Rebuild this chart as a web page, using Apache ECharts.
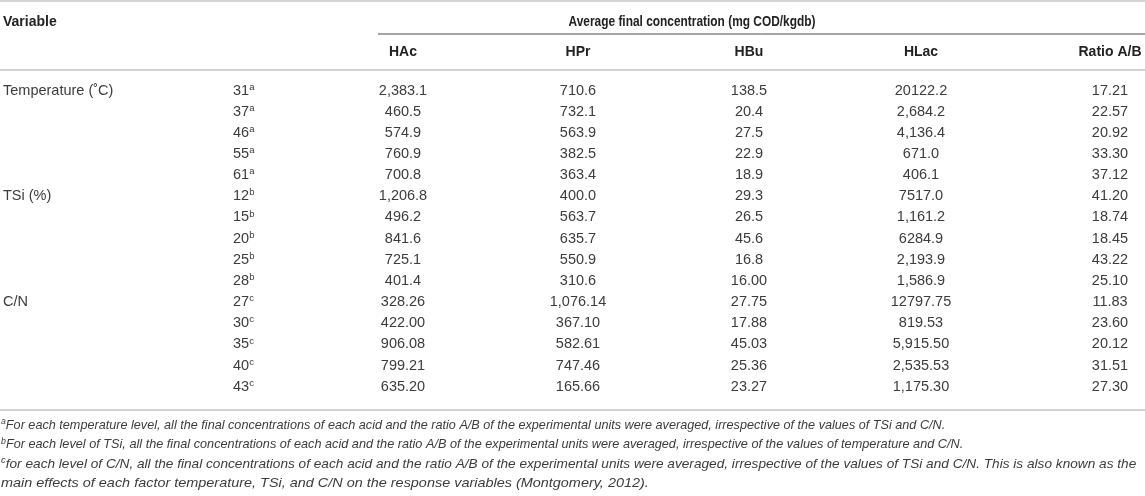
<!DOCTYPE html>
<html>
<head>
<meta charset="utf-8">
<script src="https://cdn.jsdelivr.net/npm/echarts@6/dist/echarts.min.js"></script>
<style>
html, body { margin: 0; padding: 0; background: #fff; }
#chart { width: 1145px; height: 496px; }
</style>
</head>
<body>
<div id="chart"></div>
<script>
// table data
const variables = ['Temperature (˚C)', '', '', '', '', 'TSi (%)', '', '', '', '', 'C/N', '', '', '', ''];
const levels = ['31', '37', '46', '55', '61', '12', '15', '20', '25', '28', '27', '30', '35', '40', '43'];
const marks = ['a', 'a', 'a', 'a', 'a', 'b', 'b', 'b', 'b', 'b', 'c', 'c', 'c', 'c', 'c'];
const columns = ['HAc', 'HPr', 'HBu', 'HLac', 'Ratio A/B'];
const hac = ['2,383.1', '460.5', '574.9', '760.9', '700.8', '1,206.8', '496.2', '841.6', '725.1', '401.4', '328.26', '422.00', '906.08', '799.21', '635.20'];
const hpr = ['710.6', '732.1', '563.9', '382.5', '363.4', '400.0', '563.7', '635.7', '550.9', '310.6', '1,076.14', '367.10', '582.61', '747.46', '165.66'];
const hbu = ['138.5', '20.4', '27.5', '22.9', '18.9', '29.3', '26.5', '45.6', '16.8', '16.00', '27.75', '17.88', '45.03', '25.36', '23.27'];
const hlac = ['20122.2', '2,684.2', '4,136.4', '671.0', '406.1', '7517.0', '1,161.2', '6284.9', '2,193.9', '1,586.9', '12797.75', '819.53', '5,915.50', '2,535.53', '1,175.30'];
const ratio = ['17.21', '22.57', '20.92', '33.30', '37.12', '41.20', '18.74', '18.45', '43.22', '25.10', '11.83', '23.60', '20.12', '31.51', '27.30'];
const footnotes = [
	['a', 'For each temperature level, all the final concentrations of each acid and the ratio A/B of the experimental units were averaged, irrespective of the values of TSi and C/N.'],
	['b', 'For each level of TSi, all the final concentrations of each acid and the ratio A/B of the experimental units were averaged, irrespective of the values of temperature and C/N.'],
	['c', 'for each level of C/N, all the final concentrations of each acid and the ratio A/B of the experimental units were averaged, irrespective of the values of TSi and C/N. This is also known as the'],
	['', 'main effects of each factor temperature, TSi, and C/N on the response variables (Montgomery, 2012).']
];

// layout
const W = 1145;
const colX = [3, 233, 403, 578, 749, 921, 1110];
const colAlign = ['left', 'left', 'center', 'center', 'center', 'center', 'center'];
const noteStretch = [0.973, 0.977, 1.05, 1.11];
const font = '"Liberation Sans", Arial, sans-serif';
const textColor = '#3c3c3c';
const headColor = '#222';
const ruleColor = '#d4d4d4';

const valueCols = [hac, hpr, hbu, hlac, ratio];
const cells = [];
levels.forEach((lv, i) => {
	if (variables[i]) cells.push({ col: 0, row: i, text: variables[i] });
	cells.push({ col: 1, row: i, text: '{n|' + lv + '}{s|' + marks[i] + '}' });
	valueCols.forEach((arr, j) => cells.push({ col: j + 2, row: i, text: arr[i] }));
});

const chart = echarts.init(document.getElementById('chart'), null, { renderer: 'canvas' });

const graphic = [
	{ type: 'line', shape: { x1: 0, y1: 1, x2: W, y2: 1 }, style: { stroke: ruleColor, lineWidth: 2 } },
	{ type: 'line', shape: { x1: 378, y1: 34, x2: W, y2: 34 }, style: { stroke: '#4a4a4a', lineWidth: 1 } },
	{ type: 'line', shape: { x1: 0, y1: 70, x2: W, y2: 70 }, style: { stroke: ruleColor, lineWidth: 2 } },
	{ type: 'line', shape: { x1: 0, y1: 410, x2: W, y2: 410 }, style: { stroke: ruleColor, lineWidth: 2 } },
	{ type: 'text', x: 3, y: 22, style: { text: 'Variable', font: 'bold 14px ' + font, fill: headColor, textAlign: 'left', textVerticalAlign: 'middle' } },
	{ type: 'text', x: 692, y: 22, scaleX: 0.85, style: { text: 'Average final concentration (mg COD/kgdb)', font: 'bold 14px ' + font, fill: headColor, textAlign: 'center', textVerticalAlign: 'middle' } }
];
columns.forEach((c, j) => {
	graphic.push({ type: 'text', x: colX[j + 2], y: 52, style: { text: c, font: 'bold 14px ' + font, fill: headColor, textAlign: 'center', textVerticalAlign: 'middle' } });
});
footnotes.forEach((f, k) => {
	graphic.push({
		type: 'text', x: 1, y: 425 + k * 19.5, scaleX: noteStretch[k],
		style: {
			text: (f[0] ? '{s|' + f[0] + '}' : '') + '{t|' + f[1] + '}',
			textVerticalAlign: 'middle',
			rich: {
				s: { fontFamily: font, fontStyle: 'italic', fontSize: 9, fill: textColor, verticalAlign: 'top', lineHeight: 16 },
				t: { fontFamily: font, fontStyle: 'italic', fontSize: 13, fill: textColor, lineHeight: 16 }
			}
		}
	});
});

chart.setOption({
	animation: false,
	grid: { left: 0, right: 0, top: 80, bottom: 98.75 },
	xAxis: { type: 'value', min: 0, max: W, show: false },
	yAxis: { type: 'category', data: levels, inverse: true, show: false },
	graphic: graphic,
	series: [{
		type: 'custom',
		data: cells.map(c => [colX[c.col], c.row]),
		renderItem: function (params, api) {
			const c = cells[params.dataIndex];
			const p = api.coord([api.value(0), api.value(1)]);
			return {
				type: 'text',
				x: p[0],
				y: p[1],
				style: {
					text: c.text,
					align: colAlign[c.col],
					verticalAlign: 'middle',
					fontFamily: font,
					fontSize: 14.5,
					fill: textColor,
					rich: {
						n: { fontFamily: font, fontSize: 14.5, fill: textColor, lineHeight: 17 },
						s: { fontFamily: font, fontSize: 9.5, fill: textColor, verticalAlign: 'top', lineHeight: 17 }
					}
				}
			};
		}
	}]
});
</script>
</body>
</html>
